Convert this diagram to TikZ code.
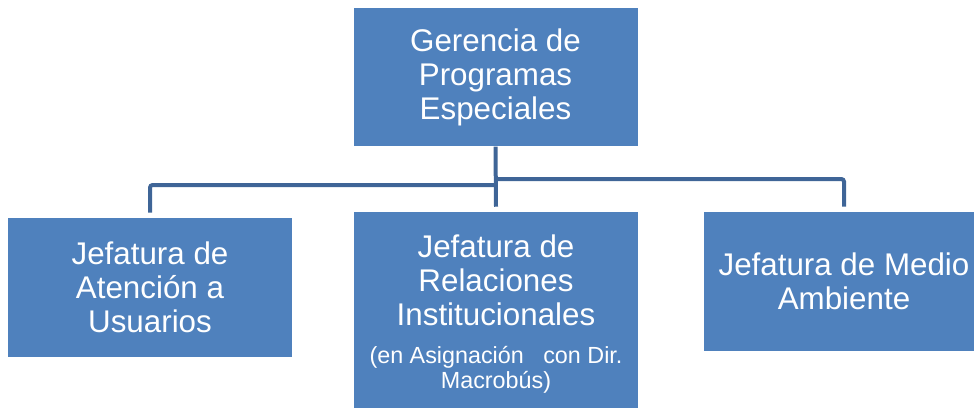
\documentclass[tikz,border=0pt]{standalone}
\usepackage{fontspec}
\setmainfont{Liberation Sans}
\usetikzlibrary{positioning}
\definecolor{boxblue}{HTML}{4F81BD}
\definecolor{linkblue}{HTML}{3F6597}

\begin{document}
\begin{tikzpicture}[
  x=0.75pt, y=-0.75pt,
  font=\fontsize{23.5}{25.5}\selectfont,
  unit/.style={fill=boxblue, text=white, align=center, inner sep=0pt,
    minimum width=213pt, minimum height=104pt},
  link/.style={draw=linkblue, line width=3pt, rounded corners=2pt},
  note/.style={font=\fontsize{17.5}{19}\selectfont, text=white, align=center}
]
\clip (0,0) rectangle (974,408);

% boxes
\node[unit] (gerencia) at (495.5,77) {Gerencia de\\Programas\\Especiales};
\node[unit, minimum height=104.25pt] (atencion) at (150,287.5) {Jefatura de\\Atenci\'on a\\Usuarios};
\node[unit, minimum height=147pt] (relaciones) at (496,310) {};
\node[unit, minimum width=210pt, minimum height=104.25pt] (ambiente) at (844,281.5) {Jefatura de Medio\\Ambiente};

% texts of the middle box
\node[align=center, text=white] (reltext) at (496,280) {Jefatura de\\Relaciones\\Institucionales};
\node[note] (relnote) at (496,369.5) {(en Asignaci\'on\ \ \ con Dir.\\Macrob\'us)};

% connectors
\coordinate (forkL) at (496,185);
\coordinate (forkR) at (496,179);
\draw[link] (gerencia.south) -- ([yshift=3.75pt]relaciones.north);
\draw[link] (forkL) -| ([yshift=3.75pt]atencion.north);
\draw[link] (forkR) -| ([yshift=3.75pt]ambiente.north);

\end{tikzpicture}
\end{document}
